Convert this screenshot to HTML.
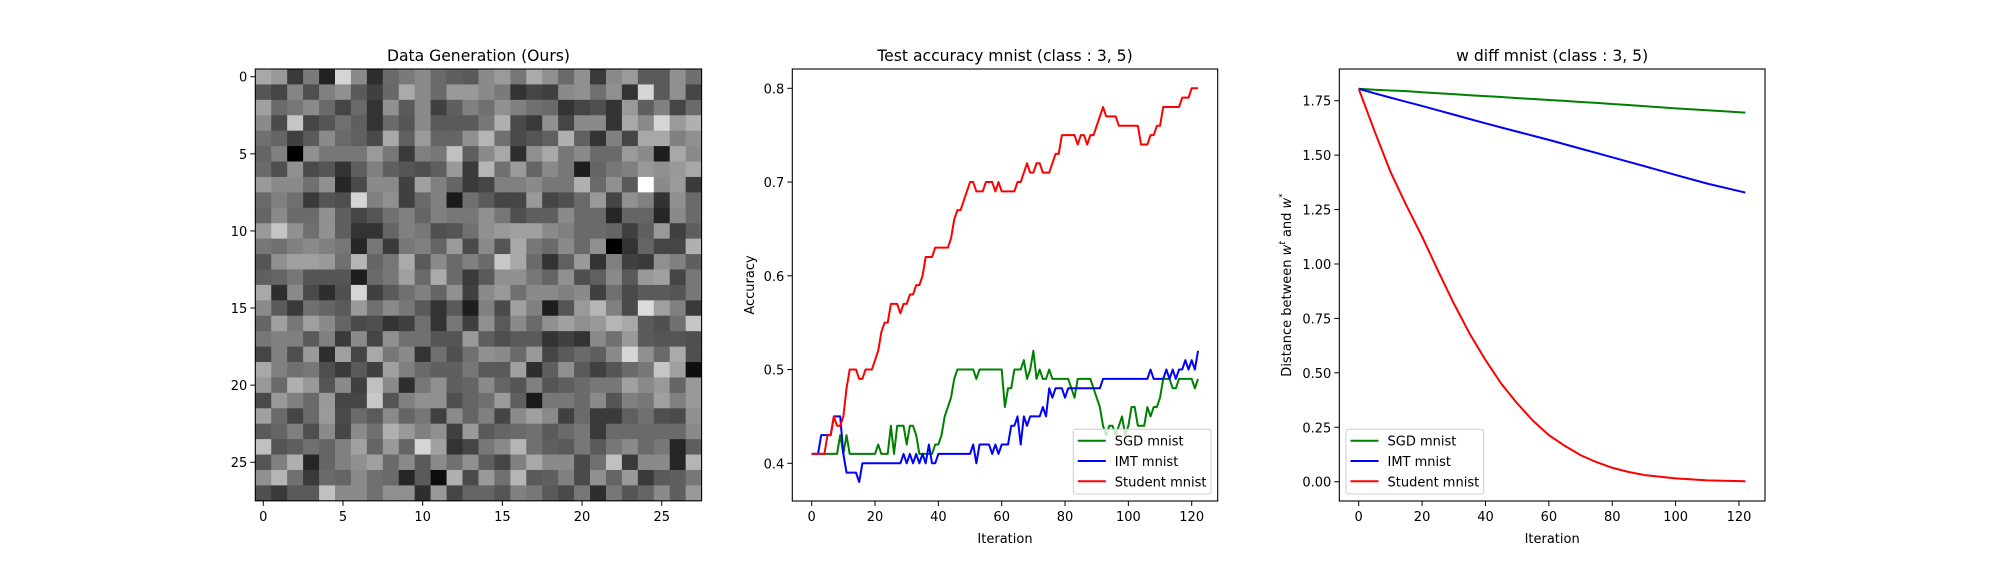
<!DOCTYPE html>
<html><head><meta charset="utf-8"><style>
html,body{margin:0;padding:0;background:#fff;width:2000px;height:580px;overflow:hidden}
svg text{font-family:"DejaVu Sans","Liberation Sans",sans-serif;fill:#000}
</style></head><body>
<svg id="fig" width="2000" height="580" viewBox="0 0 2000 580" xmlns="http://www.w3.org/2000/svg">
<rect width="2000" height="580" fill="#fff"/>
<g id="p1"></g>
<g id="p2"></g>
<g id="p3"></g>
</svg>
<script>
// ---- heatmap data (28x28 gray levels, hex) ----
const heatRows = [
"a8993a7a22d58a2e6a7a8a6a5f5a8a9a77aa906a903a8a9a5a5a906f",
"5545854f80905a4068aa8a6a99998a7a3345408a90709033d55a9045",
"a06a778a6a456a33905a8a405f80709080706a33454f339a5f80456a",
"8a4ac54555705f336a558a5a5a5a77b04a3a90458a8a33a88ad59ab0",
"706540 5a8a6a604aa8609a656590b5704a5560b0603380 45a8a88090",
"658000907777779a773a8077c05f8aa82e90a8778a6a6a9a8a1ea88a",
"6a4f904a55335f805f554f5f993ab5709a658a771e657780999099a8",
"998a8a709026 4a8a8a40a080653a4580808a7777b06a905aff8a9a3a",
"6a80703a554fd58090406a801a705a454599454f6a99459080339 06a",
"658a6a6a905f455570806580777790774f5f5f8a6a6a266565268a6a",
"99c59070905f3333658077 4f55709099a0a08a806a6a65405f99405f",
"7770808a807726773a7780659a4a8a55a8776a8a6a9000336545 45b0",
"5590a0a09970b56577aa5a8a6a806ac8a86a336099338040 3a90805f",
"5f657755 55551e6a77a06aaa6a3a5a9090776590 4f608a5a99a04577",
"a82e8a4a2e4fd5405a7080659040 8a99708a8a808a40704a5a5a5577",
"8a5a3a70655a99708a775a335a1e804aa0801e559ab5804adca0803a",
"65a077a08a654a4f3340703377 40905a8a6a90a09099b5a85a4f70c5",
"7780805a803a8a459070705555995f4f5a5a3340338a70995a55554f",
"45804f992ea045a8778a33704f70908a6a99455a6a5f8ad5906aaa4f",
"a8807077 4f3a5a40a0806a5f5f775a5aa02e5f905a40556a77c5a00e",
"996ab099558a40c08a2e77905f658a655580555f6a7777a08a996599",
"4a99806a994545c855809090 4f65709a5f1a77776a8a5580 77a08099",
"a06a456a9a4a6a5a8a657740 8a6580458aa08a406a3a3a5f704f4a90",
"5a65804f8a458a70b099809040995a656a705a6a773a6a6a6a6a6a8a",
"c0555f706580a06599 65d5a0334577 8ab5705f5a775a778a6a77265f",
"5580b026658090a06a8a5a8a70905f4580a88a8a4a70c03a8a8a26b5",
"90b5703a6a658a706a265a0eb04a9970b55a5f804a906599 3a5a5f77",
"4f3a5a5ac08a8a709090 2e99456565558077 5a4a772e77556 58a5f99"
];
// ---- accuracy chart data ----
const accIterations = Array.from({length:123},(_, i)=>i);
const sgdAcc = [0.41,0.41,0.41,0.41,0.41,0.41,0.41,0.41,0.41,0.43,0.41,0.43,0.41,0.41,0.41,0.41,0.41,0.41,0.41,0.41,0.41,0.42,0.41,0.41,0.41,0.44,0.41,0.44,0.44,0.44,0.42,0.44,0.44,0.43,0.41,0.41,0.41,0.41,0.41,0.42,0.42,0.43,0.45,0.46,0.47,0.49,0.50,0.50,0.50,0.50,0.50,0.50,0.49,0.50,0.50,0.50,0.50,0.50,0.50,0.50,0.50,0.46,0.48,0.48,0.50,0.50,0.50,0.51,0.49,0.50,0.52,0.49,0.50,0.49,0.49,0.50,0.49,0.49,0.49,0.49,0.49,0.49,0.48,0.47,0.49,0.49,0.49,0.49,0.49,0.48,0.47,0.46,0.44,0.43,0.44,0.44,0.43,0.44,0.45,0.43,0.44,0.46,0.46,0.44,0.44,0.44,0.46,0.45,0.46,0.46,0.47,0.49,0.49,0.49,0.48,0.48,0.49,0.49,0.49,0.49,0.49,0.48,0.49];
const imtAcc = [0.41,0.41,0.41,0.43,0.43,0.43,0.43,0.45,0.45,0.45,0.41,0.39,0.39,0.39,0.39,0.38,0.40,0.40,0.40,0.40,0.40,0.40,0.40,0.40,0.40,0.40,0.40,0.40,0.40,0.41,0.40,0.41,0.40,0.41,0.40,0.41,0.40,0.42,0.40,0.40,0.41,0.41,0.41,0.41,0.41,0.41,0.41,0.41,0.41,0.41,0.41,0.42,0.40,0.42,0.42,0.42,0.42,0.41,0.42,0.41,0.42,0.42,0.42,0.44,0.44,0.45,0.42,0.45,0.44,0.45,0.45,0.45,0.45,0.46,0.45,0.48,0.47,0.48,0.48,0.48,0.47,0.48,0.48,0.48,0.48,0.48,0.48,0.48,0.48,0.48,0.48,0.48,0.49,0.49,0.49,0.49,0.49,0.49,0.49,0.49,0.49,0.49,0.49,0.49,0.49,0.49,0.49,0.50,0.49,0.49,0.49,0.49,0.50,0.49,0.50,0.49,0.50,0.50,0.51,0.50,0.51,0.50,0.52];
const studentAcc = [0.41,0.41,0.41,0.41,0.41,0.43,0.43,0.45,0.44,0.44,0.45,0.48,0.50,0.50,0.50,0.49,0.49,0.50,0.50,0.50,0.51,0.52,0.54,0.55,0.55,0.57,0.57,0.57,0.56,0.57,0.57,0.58,0.58,0.59,0.59,0.60,0.62,0.62,0.62,0.63,0.63,0.63,0.63,0.63,0.64,0.66,0.67,0.67,0.68,0.69,0.70,0.70,0.69,0.69,0.69,0.70,0.70,0.70,0.69,0.70,0.69,0.69,0.69,0.69,0.69,0.70,0.70,0.71,0.72,0.71,0.71,0.72,0.72,0.71,0.71,0.71,0.72,0.73,0.73,0.75,0.75,0.75,0.75,0.75,0.74,0.75,0.75,0.74,0.75,0.75,0.76,0.77,0.78,0.77,0.77,0.77,0.77,0.76,0.76,0.76,0.76,0.76,0.76,0.76,0.74,0.74,0.74,0.75,0.75,0.76,0.76,0.78,0.78,0.78,0.78,0.78,0.78,0.79,0.79,0.79,0.80,0.80,0.80];
const accTicksX = [0,20,40,60,80,100,120];
const accTicksY = [0.4,0.5,0.6,0.7,0.8];
// ---- w diff chart data ----
const wdIter = [0,5,10,15,20,25,30,35,40,45,50,55,60,65,70,75,80,85,90,100,110,122];
const sgdW = [1.805,1.800,1.797,1.794,1.789,1.784,1.780,1.775,1.771,1.767,1.762,1.758,1.753,1.749,1.744,1.740,1.735,1.730,1.725,1.715,1.706,1.695];
const imtW = [1.805,1.784,1.764,1.745,1.726,1.706,1.686,1.666,1.646,1.627,1.608,1.589,1.570,1.550,1.530,1.510,1.490,1.470,1.450,1.409,1.369,1.328];
const studentW = [1.805,1.61,1.424,1.27,1.126,0.97,0.819,0.68,0.559,0.45,0.36,0.28,0.214,0.165,0.122,0.09,0.064,0.045,0.031,0.015,0.006,0.002];
const wdTicksX = [0,20,40,60,80,100,120];
const wdTicksY = [0,0.25,0.5,0.75,1.0,1.25,1.5,1.75];
const heatTicks = [0,5,10,15,20,25];

const FS=13, TFS=15.6;
const NS='http://www.w3.org/2000/svg';
function mk(parent, tag, attrs, text){
  const e=document.createElementNS(NS,tag);
  for(const k in attrs) e.setAttribute(k,attrs[k]);
  if(text!==undefined) e.textContent=text;
  parent.appendChild(e); return e;
}
function lin(d0,d1,r0,r1){return v=>r0+(v-d0)*(r1-r0)/(d1-d0);}

// ---------- panel 1 heatmap ----------
(function(){
  const g=document.getElementById('p1');
  const L=255.3,R=701.6,T=69,B=500.8;
  const sx=lin(-0.5,27.5,L,R), sy=lin(-0.5,27.5,T,B);
  const cells=mk(g,'g',{});
  
  
  heatRows.forEach((row,r)=>{
    const s=row.replace(/\s/g,'');
    for(let c=0;c<28;c++){
      let v=s.substr(c*2,2); if(v.length<2) v='80';
      const x0=sx(c-0.5), y0=sy(r-0.5);
      const rc=mk(cells,'rect',{x:x0.toFixed(2),y:y0.toFixed(2),width:(sx(c+0.5)-x0+0.4).toFixed(2),height:(sy(r+0.5)-y0+0.4).toFixed(2),fill:'#'+v+v+v});
      
      
    }
  });
  const fr=mk(g,'rect',{x:L,y:T,width:R-L,height:B-T,fill:'none',stroke:'#000','stroke-width':1.1});
   
  heatTicks.forEach(t=>{
    const x=sx(t);
    mk(g,'line',{x1:x,x2:x,y1:B,y2:B+5,stroke:'#000'});
    const tx=mk(g,'text',{x:x,y:521,'font-size':FS,'text-anchor':'middle'},t);
     
    const y=sy(t);
    mk(g,'line',{x1:L-5,x2:L,y1:y,y2:y,stroke:'#000'});
    const ty=mk(g,'text',{x:L-8,y:y+5,'font-size':FS,'text-anchor':'end'},t);
     
  });
  const ti=mk(g,'text',{x:(L+R)/2,y:61,'font-size':TFS,'text-anchor':'middle'},'Data Generation (Ours)');
   
})();

// ---------- line chart helper ----------
function lineChart(gid,cfg){
  const g=document.getElementById(gid);
  const {L,R,T,B}=cfg;
  const sx=lin(cfg.xd[0],cfg.xd[1],cfg.xr[0],cfg.xr[1]);
  const sy=lin(cfg.yd[0],cfg.yd[1],cfg.yr[0],cfg.yr[1]);
  cfg.series.forEach(s=>{
    const pts=s.x.map((xv,i)=>sx(xv).toFixed(2)+','+sy(s.y[i]).toFixed(2)).join(' ');
    const pl=mk(g,'polyline',{points:pts,fill:'none',stroke:s.color,'stroke-width':2,'stroke-linejoin':'round'});
    
    
  });
  const fr=mk(g,'rect',{x:L,y:T,width:R-L,height:B-T,fill:'none',stroke:'#000','stroke-width':1.1});
   
  cfg.xt.forEach(t=>{
    const x=sx(t);
    mk(g,'line',{x1:x,x2:x,y1:B,y2:B+5,stroke:'#000'});
    const tx=mk(g,'text',{x:x,y:521,'font-size':FS,'text-anchor':'middle'},t);
     
  });
  cfg.yt.forEach(t=>{
    const y=sy(t);
    mk(g,'line',{x1:L-5,x2:L,y1:y,y2:y,stroke:'#000'});
    const ty=mk(g,'text',{x:L-8,y:y+5,'font-size':FS,'text-anchor':'end'},t.toFixed(cfg.yfix));
     
  });
  const xl=mk(g,'text',{x:(L+R)/2,y:543,'font-size':FS,'text-anchor':'middle'},'Iteration');
   
  const yl=mk(g,'text',{x:0,y:0,'font-size':FS,'text-anchor':'middle',transform:`translate(${cfg.ylx},${(T+B)/2}) rotate(-90)`});
   
  yl.innerHTML=cfg.ylabel;
  const ti=mk(g,'text',{x:(L+R)/2,y:61,'font-size':TFS,'text-anchor':'middle'},cfg.title);
   
  // legend
  const lg=mk(g,'g',{});
   
  const lx=cfg.legX;
  mk(lg,'rect',{x:lx,y:429.3,width:137.7,height:64.7,rx:2.5,fill:'#fff','fill-opacity':0.8,stroke:'#ccc'});
  cfg.series.forEach((s,i)=>{
    const y=440.7+i*20.3;
    const en=mk(lg,'g',{});
     
    mk(en,'line',{x1:lx+4.5,x2:lx+32.5,y1:y,y2:y,stroke:s.color,'stroke-width':2});
    mk(en,'text',{x:lx+41.5,y:y+5,'font-size':FS},s.label);
  });
}

lineChart('p2',{L:792.3,R:1217.7,T:69,B:501,
  xd:[0,120],xr:[811.7,1191.7],yd:[0.4,0.8],yr:[463.3,88.3],
  xt:accTicksX,yt:accTicksY,yfix:1,ylx:754,ylabel:'Accuracy',
  title:'Test accuracy mnist (class : 3, 5)',legX:1073.3,
  series:[
    {name:'sgd-accuracy-line',label:'SGD mnist',color:'#008000',x:accIterations,y:sgdAcc},
    {name:'imt-accuracy-line',label:'IMT mnist',color:'#0000ff',x:accIterations,y:imtAcc},
    {name:'student-accuracy-line',label:'Student mnist',color:'#ff0000',x:accIterations,y:studentAcc}
  ]});
lineChart('p3',{L:1339.3,R:1765,T:69,B:501,
  xd:[0,120],xr:[1358.7,1739],yd:[0,1.75],yr:[481.7,100.7],
  xt:wdTicksX,yt:wdTicksY,yfix:2,ylx:1291,
  ylabel:'Distance between <tspan font-style="italic">w</tspan><tspan font-size="9" dy="-6" font-style="italic">t</tspan><tspan dy="6"> and </tspan><tspan font-style="italic">w</tspan><tspan font-size="9" dy="-6">*</tspan>',
  title:'w diff mnist (class : 3, 5)',legX:1346,
  series:[
    {name:'sgd-wdiff-line',label:'SGD mnist',color:'#008000',x:wdIter,y:sgdW},
    {name:'imt-wdiff-line',label:'IMT mnist',color:'#0000ff',x:wdIter,y:imtW},
    {name:'student-wdiff-line',label:'Student mnist',color:'#ff0000',x:wdIter,y:studentW}
  ]});
</script>
</body></html>
